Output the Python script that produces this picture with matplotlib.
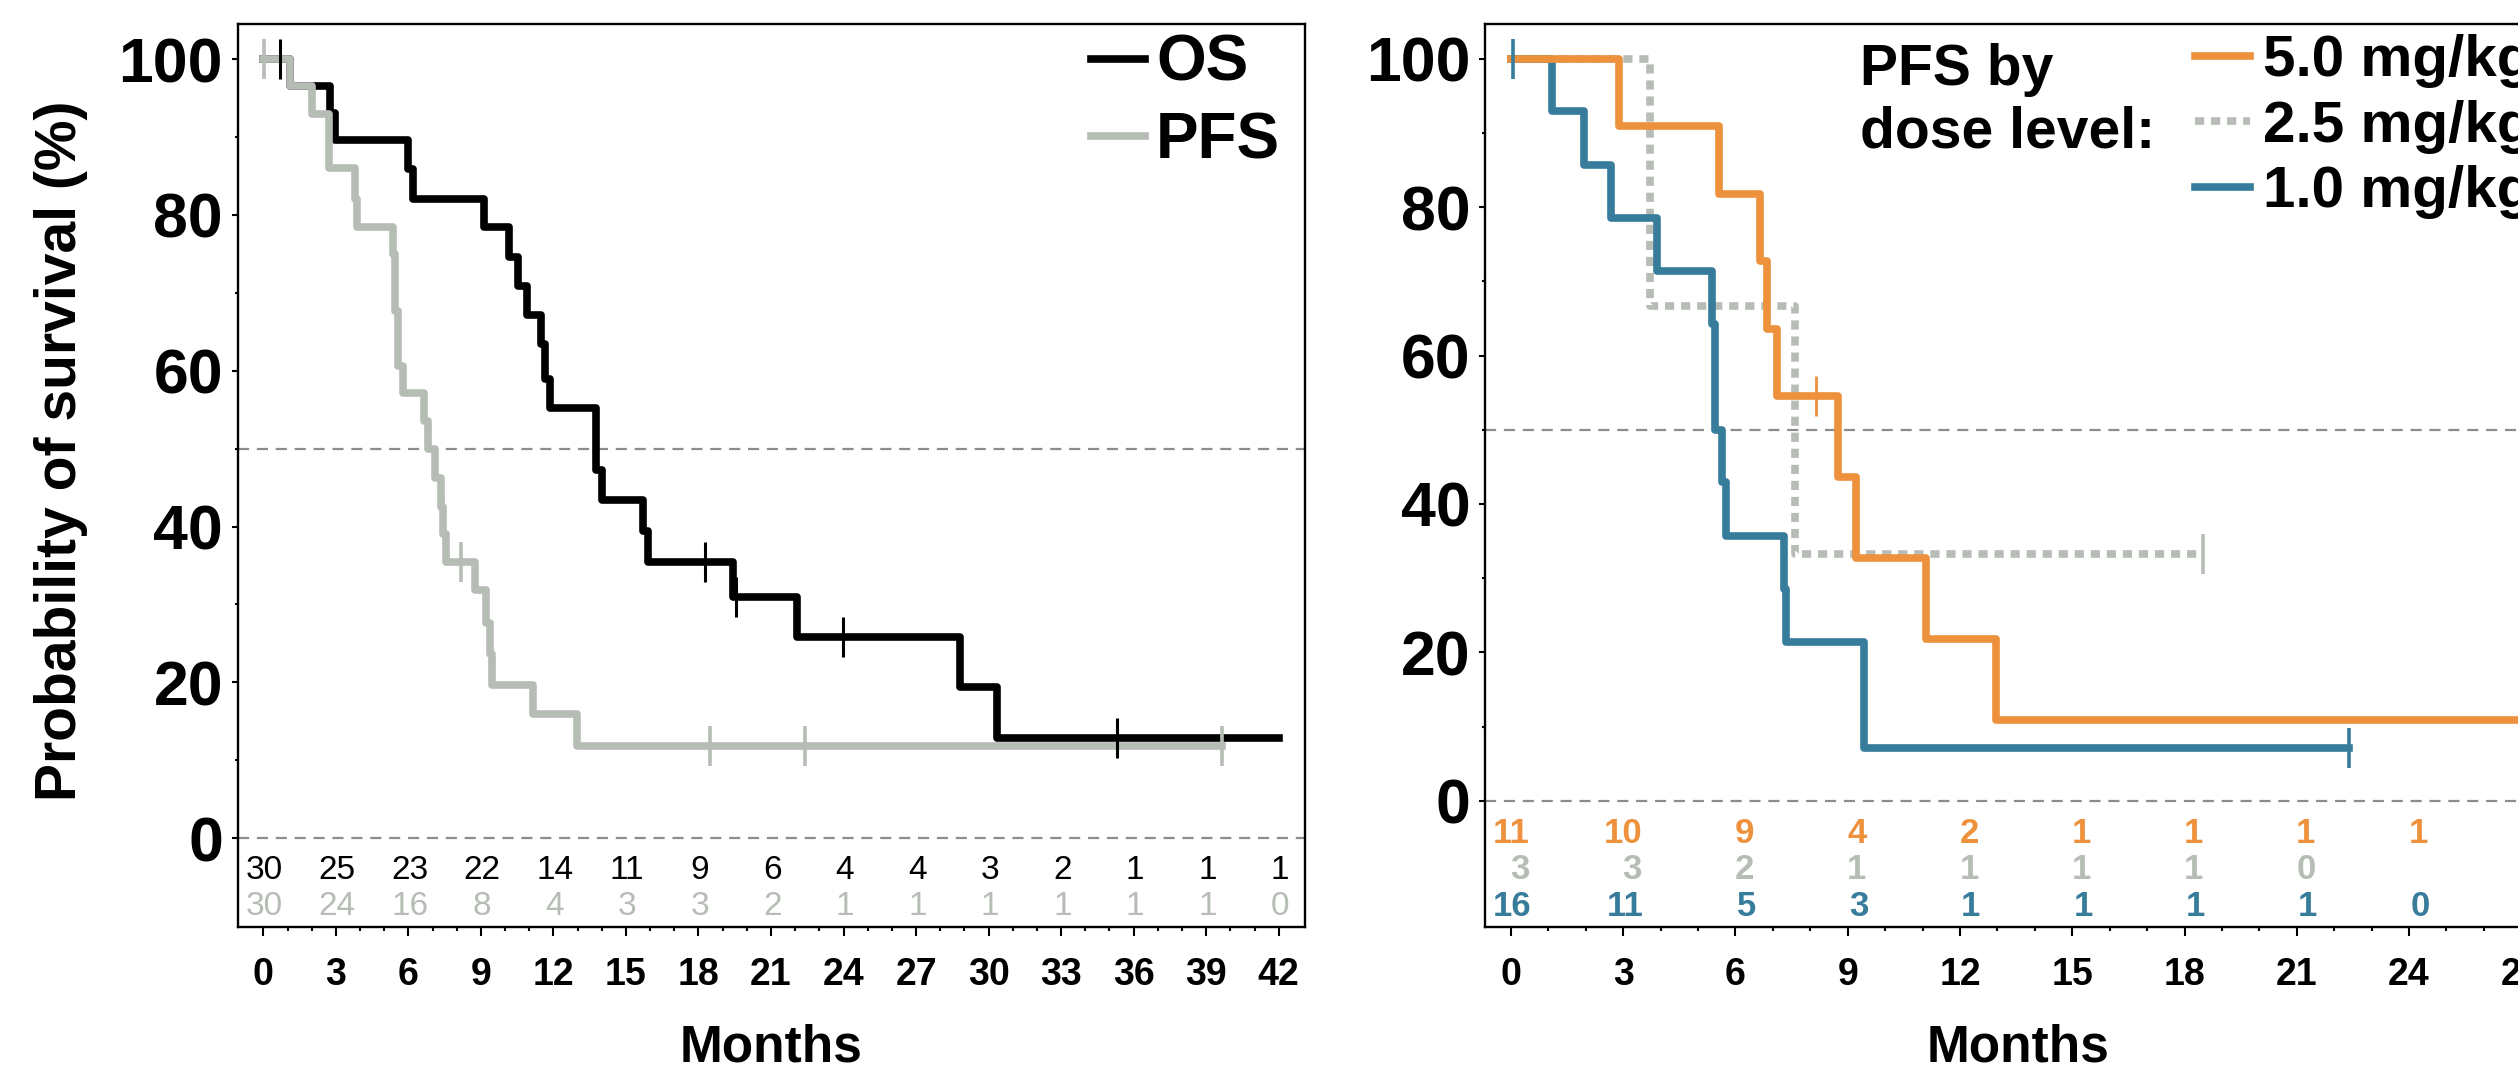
import matplotlib.pyplot as plt
from matplotlib.ticker import FixedLocator
import numpy as np

plt.rcParams['font.family'] = ['Liberation Sans', 'DejaVu Sans']
plt.rcParams['font.weight'] = 'bold'

GRAY = '#b6bdb5'
ORANGE = '#ee913c'
BLUE = '#377c9b'
REF = '#8c8c8c'

# left panel: OS and PFS, all patients (step times in months, survival in %)
os_months = [0, 1.10, 2.76, 2.95, 6.0, 6.18, 9.13, 10.15, 10.55, 10.89, 11.48, 11.66,
             11.85, 13.75, 14.02, 15.72, 15.91, 19.42, 22.08, 28.82, 30.34, 42.0]
os_surv = [100, 96.6, 93.1, 89.6, 85.9, 82.1, 78.4, 74.6, 70.9, 67.1, 63.4, 59.0,
           55.2, 47.3, 43.4, 39.4, 35.5, 31.0, 25.8, 19.4, 12.9, 12.9]
os_cens_months = [0.68, 18.28, 19.55, 23.98, 35.33]
os_cens_surv = [100, 35.5, 31.0, 25.8, 12.9]

pfs_months = [0, 1.10, 2.03, 2.73, 3.78, 3.87, 5.35, 5.44, 5.59, 5.77, 6.64, 6.83,
              7.10, 7.34, 7.44, 7.56, 8.76, 9.22, 9.37, 9.47, 11.16, 12.97, 39.64]
pfs_surv = [100, 96.6, 92.9, 86.0, 82.1, 78.5, 75.0, 67.7, 60.6, 57.1, 53.5, 50.0,
            46.2, 42.5, 39.0, 35.5, 31.8, 27.6, 23.6, 19.7, 15.9, 11.8, 11.8]
pfs_cens_months = [0.03, 8.16, 18.47, 22.4, 39.64]
pfs_cens_surv = [100, 35.5, 11.8, 11.8, 11.8]

risk_months_left = [0, 3, 6, 9, 12, 15, 18, 21, 24, 27, 30, 33, 36, 39, 42]
os_at_risk = [30, 25, 23, 22, 14, 11, 9, 6, 4, 4, 3, 2, 1, 1, 1]
pfs_at_risk = [30, 24, 16, 8, 4, 3, 3, 2, 1, 1, 1, 1, 1, 1, 0]

# right panel: PFS by dose level
d50_months = [0, 2.9, 5.55, 6.65, 6.83, 7.12, 8.73, 9.21, 11.1, 12.96, 28.5]
d50_surv = [100, 90.9, 81.8, 72.7, 63.6, 54.5, 43.6, 32.7, 21.8, 10.9, 10.9]
d50_cens_months = [8.16]
d50_cens_surv = [54.5]

d25_months = [0, 3.72, 7.58, 18.5]
d25_surv = [100, 66.7, 33.3, 33.3]
d25_cens_months = [18.5]
d25_cens_surv = [33.3]

d10_months = [0, 1.1, 1.96, 2.67, 3.9, 5.36, 5.45, 5.63, 5.75, 7.3, 7.35, 9.43, 22.4]
d10_surv = [100, 92.9, 85.7, 78.6, 71.4, 64.3, 50.0, 42.9, 35.7, 28.6, 21.4, 7.1, 7.1]
d10_cens_months = [0.05, 22.4]
d10_cens_surv = [100, 7.1]

risk_months_right = [0, 3, 6, 9, 12, 15, 18, 21, 24]
d50_at_risk = [11, 10, 9, 4, 2, 1, 1, 1, 1]
d25_at_risk = [3, 3, 2, 1, 1, 1, 1, 0]
d10_at_risk = [16, 11, 5, 3, 1, 1, 1, 1, 0]

fig = plt.figure(figsize=(25.18, 10.68), dpi=100)
ax1 = fig.add_axes([0.0945, 0.132, 0.4237, 0.8455])
ax2 = fig.add_axes([0.5898, 0.132, 0.4237, 0.8455])

for ax in (ax1, ax2):
    for sp in ax.spines.values():
        sp.set_linewidth(1.7)
    ax.axhline(50, color=REF, lw=1.6, ls=(0, (5, 3.5)), zorder=1)
    ax.axhline(0, color=REF, lw=1.6, ls=(0, (5, 3.5)), zorder=1)
    ax.set_yticks(range(0, 101, 20))
    ax.yaxis.set_minor_locator(FixedLocator(range(10, 100, 20)))
    ax.tick_params(axis='y', which='major', labelsize=45, length=4.2, width=1.5, pad=6.5)
    ax.tick_params(axis='y', which='minor', length=2.5, width=1.5)
    ax.tick_params(axis='x', which='major', labelsize=27, length=6.5, width=1.5, pad=15)
    ax.tick_params(axis='x', which='minor', length=2.6, width=1.5)
    ax.set_xlabel('Months', fontsize=37, fontweight='bold')
    ax.xaxis.set_label_coords(0.5, -0.107)

# ---- left panel
ax1.step(os_months, os_surv, where='post', color='black', lw=5.5, label='OS', zorder=3)
ax1.step(pfs_months, pfs_surv, where='post', color=GRAY, lw=5.5, label='PFS', zorder=4)
ax1.plot(os_cens_months, os_cens_surv, ls='none', marker='|', ms=29, mew=2.2, color='black', zorder=5)
ax1.plot(pfs_cens_months, pfs_cens_surv, ls='none', marker='|', ms=29, mew=2.6, color=GRAY, zorder=5)

for m, n in zip(risk_months_left, os_at_risk):
    ax1.text(m + 0.05, -5.2, str(n), ha='center', va='baseline', fontsize=24, fontweight='normal', color='black')
for m, n in zip(risk_months_left, pfs_at_risk):
    ax1.text(m + 0.05, -9.9, str(n), ha='center', va='baseline', fontsize=24, fontweight='normal', color=GRAY)

ax1.set_xlim(-1.05, 43.08)
ax1.set_ylim(-11.4, 104.5)
ax1.set_xticks(risk_months_left)
ax1.xaxis.set_minor_locator(FixedLocator(range(0, 43)))
ax1.set_ylabel('Probability of survival (%)', fontsize=41, fontweight='bold')
ax1.yaxis.set_label_coords(-0.1406, 0.527)
ax1.legend(loc='upper right', bbox_to_anchor=(0.977, 0.989), frameon=False,
           prop={'size': 46, 'weight': 'bold'}, handlelength=0.85, handletextpad=0.17,
           labelspacing=0.28, borderpad=0, borderaxespad=0)

# ---- right panel
l25, = ax2.step(d25_months, d25_surv, where='post', color=GRAY, lw=5.5,
                ls=(0, (1.2, 0.9)), dash_capstyle='butt', label='2.5 mg/kg', zorder=3)
l10, = ax2.step(d10_months, d10_surv, where='post', color=BLUE, lw=5.5, label='1.0 mg/kg', zorder=4)
l50, = ax2.step(d50_months, d50_surv, where='post', color=ORANGE, lw=5.5, label='5.0 mg/kg', zorder=5)
ax2.plot(d25_cens_months, d25_cens_surv, ls='none', marker='|', ms=29, mew=2.6, color=GRAY, zorder=6)
ax2.plot(d10_cens_months, d10_cens_surv, ls='none', marker='|', ms=29, mew=2.6, color=BLUE, zorder=6)
ax2.plot(d50_cens_months, d50_cens_surv, ls='none', marker='|', ms=29, mew=2.0, color=ORANGE, zorder=6)

for m, n in zip(risk_months_right, d50_at_risk):
    ax2.text(m + 0.5, -5.74, str(n), ha='right', va='baseline', fontsize=25, color=ORANGE)
for m, n in zip(risk_months_right, d25_at_risk):
    ax2.text(m + 0.5, -10.6, str(n), ha='right', va='baseline', fontsize=25, color=GRAY)
for m, n in zip(risk_months_right, d10_at_risk):
    ax2.text(m + 0.55, -15.6, str(n), ha='right', va='baseline', fontsize=25, color=BLUE)

ax2.set_xlim(-0.69, 27.82)
ax2.set_ylim(-17.02, 104.68)
ax2.set_xticks(range(0, 28, 3))
ax2.xaxis.set_minor_locator(FixedLocator(range(0, 29)))

ax2.text(0.3515, 0.979, 'PFS by\ndose level:', transform=ax2.transAxes, ha='left', va='top',
         fontsize=41, fontweight='bold', linespacing=1.2)
ax2.legend(handles=[l50, l25, l10], loc='upper left', bbox_to_anchor=(0.665, 0.989),
           frameon=False, prop={'size': 42, 'weight': 'bold'}, handlelength=0.95,
           handletextpad=0.22, labelspacing=0.2, borderpad=0, borderaxespad=0)

fig.savefig('out.png', dpi=100)
